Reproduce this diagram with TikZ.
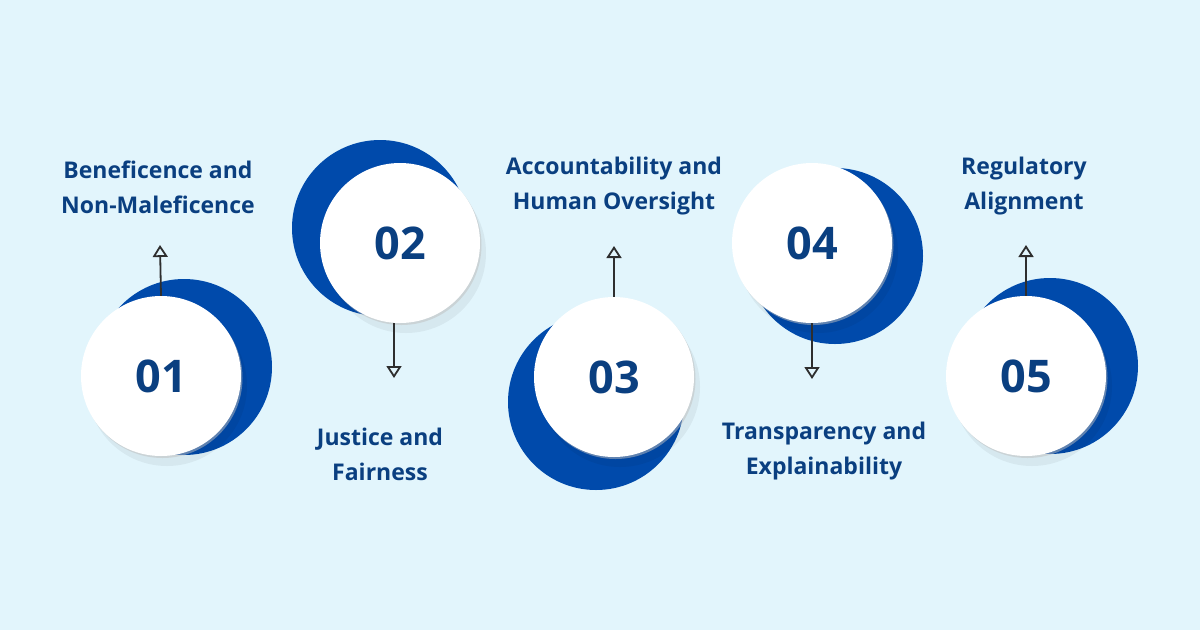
\documentclass[tikz,border=0pt]{standalone}
\usepackage{fontspec}
\setmainfont{Open Sans}
\usetikzlibrary{arrows.meta}
\usetikzlibrary{shadows}

\definecolor{bgblue}{HTML}{E2F5FC}
\definecolor{moonblue}{HTML}{004AAB}
\definecolor{inkblue}{HTML}{0A3F80}
\definecolor{stemgray}{HTML}{2E2E2E}

\tikzset{
  moon/.style={circle, fill=moonblue, minimum size=176pt, inner sep=0pt},
  disc/.style={circle, fill=white, minimum size=160pt, inner sep=0pt,
    text=inkblue, font=\fontsize{45}{45}\selectfont\bfseries,
    drop shadow={shadow xshift=6pt, shadow yshift=-10pt, fill=black, opacity=0.05},
    drop shadow={shadow xshift=1.5pt, shadow yshift=-2pt, fill=black!25, opacity=0.5}},
  caption/.style={align=center, text=inkblue, font=\fontsize{23}{35}\selectfont\bfseries},
  stem/.style={draw=stemgray, line width=1.8pt, -{Triangle[open, length=12pt, width=15pt]}}
}

\begin{document}
\begin{tikzpicture}[x=1pt, y=-1pt]
\fill [bgblue] (0,0) rectangle (1200,630);

% blue moons behind the discs
\node [moon] (m1) at (184,367) {};
\node [moon] (m2) at (380,228) {};
\node [moon] (m3) at (596,402) {};
\node [moon] (m4) at (835,256) {};
\node [moon] (m5) at (1050,366) {};

% numbered discs
\node [disc] (c1) at (161,376) {01};
\node [disc] (c2) at (400,243) {02};
\node [disc] (c3) at (614,377) {03};
\node [disc] (c4) at (812,243) {04};
\node [disc] (c5) at (1026,376) {05};

% arrow ends
\coordinate (t1) at (160,245);
\coordinate (t2) at (394,378);
\coordinate (t3) at (614,246);
\coordinate (t4) at (812,379);
\coordinate (t5) at (1026,245);

\draw [stem] (c1.north) -- (t1);
\draw [stem] (c2.south -| t2) -- (t2);
\draw [stem] (c3.north) -- (t3);
\draw [stem] (c4.south) -- (t4);
\draw [stem] (c5.north) -- (t5);

% captions
\node [caption] (l1) at (158,187) {Beneficence and\\Non-Maleficence};
\node [caption] (l2) at (380,454) {Justice and\\Fairness};
\node [caption] (l3) at (614,186) {Accountability and\\Human Oversight};
\node [caption] (l4) at (824,451) {Transparency and\\Explainability};
\node [caption] (l5) at (1024,186) {Regulatory\\Alignment};
\end{tikzpicture}
\end{document}
